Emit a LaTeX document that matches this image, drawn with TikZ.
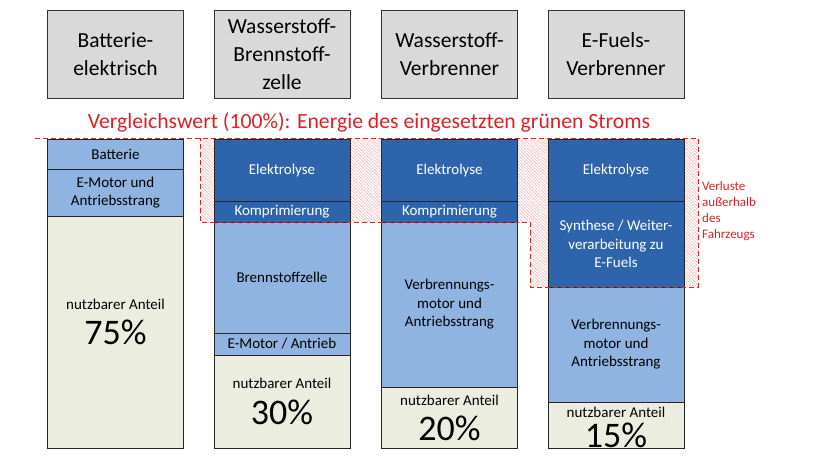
\documentclass[tikz,border=0pt]{standalone}
\usepackage{fontspec}
\setmainfont{Carlito}
\usetikzlibrary{patterns.meta}
\definecolor{dblue}{RGB}{46,100,172}
\definecolor{lblue}{RGB}{143,180,226}
\definecolor{creamc}{RGB}{235,238,223}
\definecolor{hgray}{RGB}{217,217,217}
\definecolor{lossred}{RGB}{222,32,38}
\begin{document}
\begin{tikzpicture}[x=1pt,y=-1pt,
  cellbase/.style={draw=black!85, line width=1pt, minimum width=136pt, inner sep=0pt, align=center, font=\fontsize{15}{18.5}\selectfont},
  dark/.style={cellbase, fill=dblue, text=white},
  light/.style={cellbase, fill=lblue},
  cream/.style={cellbase, fill=creamc},
  head/.style={draw=black!80, line width=1pt, fill=hgray, minimum width=136pt, minimum height=88pt, inner sep=0pt, align=center, font=\fontsize{21.5}{28}\selectfont},
  small/.style={font=\fontsize{15}{18}\selectfont, inner sep=0pt},
  big/.style={font=\fontsize{36}{36}\selectfont, inner sep=0pt, text height=25pt, text depth=0pt},
  lossline/.style={draw=lossred, line width=1pt, dash pattern=on 5pt off 3pt},
  hatch/.style={pattern={Lines[angle=-45, distance=2.2pt, line width=0.45pt]}, pattern color=lossred!40}
]
\useasboundingbox (0,0) rectangle (817,461);

% loss region hatch
\fill[hatch] (200,138) -- (698,138) -- (698,287) -- (530,287) -- (530,222) -- (200,222) -- cycle;

% headers
\node[head] (h1) at (115.5,54) {Batterie-\\elektrisch};
\node[head] (h2) at (282,54) {Wasserstoff-\\Brennstoff-\\zelle};
\node[head] (h3) at (449.5,54) {Wasserstoff-\\Verbrenner};
\node[head] (h4) at (616,54) {E-Fuels-\\Verbrenner};

% title
\node[text=lossred, font=\fontsize{21.7}{24}\selectfont, inner sep=0pt] (title) at (369,122) {Vergleichswert (100\%): Energie des eingesetzten grünen Stroms};

% column 1
\node[light, minimum height=30pt] (c1a) at (115.5,154) {Batterie};
\node[light, minimum height=47pt] (c1b) at (115.5,192.5) {E-Motor und\\Antriebsstrang};
\node[cream, minimum height=232pt] (c1c) at (115.5,332) {};
\node[small] (c1t) at (115.5,304) {nutzbarer Anteil};
\node[big] (c1p) at (115.5,332) {75\%};

% column 2
\node[dark, minimum height=62pt] (c2a) at (282,170) {Elektrolyse};
\node[dark, minimum height=21pt] (c2b) at (282,211.5) {Komprimierung};
\node[light, minimum height=111pt] (c2c) at (282,277.5) {Brennstoffzelle};
\node[light, minimum height=22pt] (c2d) at (282,344) {E-Motor / Antrieb};
\node[cream, minimum height=93pt] (c2e) at (282,401.5) {};
\node[small] (c2t) at (282,383) {nutzbarer Anteil};
\node[big] (c2p) at (282,412) {30\%};

% column 3
\node[dark, minimum height=62pt] (c3a) at (449.5,170) {Elektrolyse};
\node[dark, minimum height=21pt] (c3b) at (449.5,211.5) {Komprimierung};
\node[light, minimum height=165pt] (c3c) at (449.5,304.5) {Verbrennungs-\\motor und\\Antriebsstrang};
\node[cream, minimum height=61pt] (c3d) at (449.5,417.5) {};
\node[small] (c3t) at (449.5,400) {nutzbarer Anteil};
\node[big] (c3p) at (449.5,428) {20\%};

% column 4
\node[dark, minimum height=62pt] (c4a) at (616,170) {Elektrolyse};
\node[dark, minimum height=86pt] (c4b) at (616,244) {Synthese / Weiter-\\verarbeitung zu\\E-Fuels};
\node[light, minimum height=115pt] (c4c) at (616,344.5) {Verbrennungs-\\motor und\\Antriebsstrang};
\node[cream, minimum height=46pt] (c4d) at (616,425) {};
\node[small] (c4t) at (616,412) {nutzbarer Anteil};
\node[big] (c4p) at (616,435) {15\%};

% loss outline
\draw[lossline] (35,138) -- (698,138) -- (698,287) -- (530,287) -- (530,222) -- (200,222) -- (200,138);

% loss label
\node[text=lossred, font=\fontsize{13}{16}\selectfont, align=left, anchor=north west, inner sep=0pt] (loss) at (702,181) {Verluste\\außerhalb\\des\\Fahrzeugs};
\end{tikzpicture}
\end{document}
